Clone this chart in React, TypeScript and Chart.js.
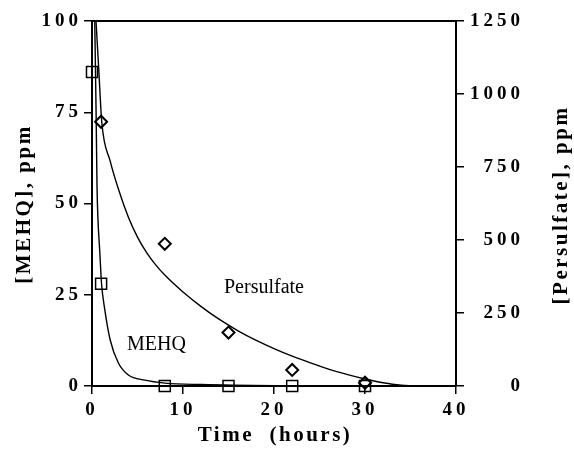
import React, { useEffect, useRef } from 'react';
import { Chart, registerables } from 'chart.js';

Chart.register(...registerables);

// Axis ticks
const timeTicks = [0, 10, 20, 30, 40];
const mehqTicks = [0, 25, 50, 75, 100];
const persTicks = [0, 250, 500, 750, 1000, 1250];

// Measured data (symbols)
const mehqTimes = [0, 1, 8, 15, 22, 30];
const mehqValues = [86, 28, 0, 0, 0, 0];
const persTimes = [1, 8, 15, 22, 30];
const persValues = [905, 487, 183, 55, 11];

// Fitted curves
const mehqFitTimes = [0.3, 0.45, 0.55, 0.65, 0.85, 1.05, 1.4, 2, 2.9, 4, 5.8, 8, 12, 20, 35.3];
const mehqFitValues = [100, 75, 55, 46, 37, 28, 21, 12.6, 6.3, 3, 1.6, 0.8, 0.4, 0.1, 0];
const persFitTimes = [0.44, 0.75, 1.07, 2, 3, 4, 5, 6, 7, 8, 10, 12, 14, 16, 18, 20, 22, 24, 26, 28, 30, 31, 32, 33, 34, 35.3];
const persFitValues = [1250, 1080, 905, 770, 665, 578, 510, 457, 415, 380, 322, 272, 228, 190, 157, 128, 102, 79, 58, 40, 24, 17, 11, 6, 2.5, 0];

const leftTitle = '[MEHQ], ppm';
const rightTitle = '[Persulfate], ppm';
const bottomTitle = 'Time  (hours)';
const persLabel = 'Persulfate';
const mehqLabel = 'MEHQ';

const FAMILY = '"Liberation Serif", "Times New Roman", serif';

const pts = (xs: number[], ys: number[]) => xs.map((x, i) => ({ x, y: ys[i] }));

const deco = {
  id: 'deco',
  beforeDraw(chart: any) {
    (chart.ctx as any).letterSpacing = '4px';
  },
  afterDraw(chart: any) {
    const { ctx, chartArea } = chart;
    ctx.save();
    ctx.strokeStyle = '#000';
    ctx.lineWidth = 2;
    ctx.beginPath();
    ctx.moveTo(chartArea.left - 1, chartArea.top);
    ctx.lineTo(chartArea.right + 1, chartArea.top);
    ctx.stroke();

    ctx.fillStyle = '#000';
    ctx.font = `bold 21px ${FAMILY}`;
    (ctx as any).letterSpacing = '2.5px';
    ctx.textAlign = 'center';
    ctx.textBaseline = 'middle';
    ctx.save();
    ctx.translate(25, 205);
    ctx.rotate(-Math.PI / 2);
    ctx.fillText(leftTitle, 1, 0);
    ctx.restore();
    ctx.save();
    ctx.translate(562, 206);
    ctx.rotate(-Math.PI / 2);
    ctx.fillText(rightTitle, 1, 0);
    ctx.restore();
    ctx.textBaseline = 'alphabetic';
    ctx.fillText(bottomTitle, 275, 441);

    (ctx as any).letterSpacing = '0px';
    ctx.font = `20px ${FAMILY}`;
    ctx.textAlign = 'left';
    ctx.fillText(persLabel, 224, 293);
    ctx.fillText(mehqLabel, 127, 350);
    ctx.restore();
  },
};

export default function App() {
  const ref = useRef<HTMLCanvasElement | null>(null);
  useEffect(() => {
    if (!ref.current) return;
    const tickFont = { family: FAMILY, size: 19, weight: 'bold' as const };
    const grid = { display: true, drawOnChartArea: false, drawTicks: true, tickLength: 8, color: '#000', lineWidth: 1.5 };
    const border = { display: true, color: '#000', width: 2 };
    const fmt = (v: any) => String(v);
    const chart = new Chart(ref.current, {
      type: 'scatter',
      data: {
        datasets: [
          {
            label: 'MEHQ fit',
            data: pts(mehqFitTimes, mehqFitValues),
            showLine: true,
            borderColor: '#000',
            borderWidth: 1.4,
            pointRadius: 0,
            cubicInterpolationMode: 'monotone',
            yAxisID: 'y',
          },
          {
            label: 'Persulfate fit',
            data: pts(persFitTimes, persFitValues),
            showLine: true,
            borderColor: '#000',
            borderWidth: 1.4,
            pointRadius: 0,
            cubicInterpolationMode: 'monotone',
            yAxisID: 'y2',
          },
          {
            label: 'MEHQ',
            data: pts(mehqTimes, mehqValues),
            showLine: false,
            pointStyle: 'rect',
            pointRadius: 7.8,
            borderColor: '#000',
            borderWidth: 1.5,
            backgroundColor: 'rgba(0,0,0,0)',
            clip: false,
            yAxisID: 'y',
          },
          {
            label: 'Persulfate',
            data: pts(persTimes, persValues),
            showLine: false,
            pointStyle: 'rectRot',
            pointRadius: 6,
            borderColor: '#000',
            borderWidth: 2,
            backgroundColor: 'rgba(0,0,0,0)',
            clip: false,
            yAxisID: 'y2',
          },
        ] as any,
      },
      options: {
        animation: false,
        responsive: false,
        devicePixelRatio: 1,
        layout: { padding: { top: 21, right: 50, bottom: 0, left: 0 } },
        plugins: { legend: { display: false }, tooltip: { enabled: false } },
        scales: {
          x: {
            type: 'linear',
            position: 'bottom',
            min: 0,
            max: 40,
            afterBuildTicks: (s: any) => { s.ticks = timeTicks.map((v) => ({ value: v })); },
            afterFit: (s: any) => { s.height = 70; },
            ticks: { font: tickFont, color: '#000', padding: 5, maxRotation: 0, autoSkip: false, callback: fmt },
            grid,
            border,
          },
          y: {
            type: 'linear',
            position: 'left',
            min: 0,
            max: 100,
            afterBuildTicks: (s: any) => { s.ticks = mehqTicks.map((v) => ({ value: v })); },
            afterFit: (s: any) => { s.width = 92; },
            ticks: { font: tickFont, color: '#000', padding: 2, callback: fmt },
            grid,
            border,
          },
          y2: {
            type: 'linear',
            position: 'right',
            min: 0,
            max: 1250,
            afterBuildTicks: (s: any) => { s.ticks = persTicks.map((v) => ({ value: v })); },
            afterFit: (s: any) => { s.width = 68; },
            ticks: { font: tickFont, color: '#000', crossAlign: 'far', callback: fmt },
            grid,
            border,
          },
        },
      } as any,
      plugins: [deco],
    });
    return () => chart.destroy();
  }, []);
  return (
    <div style={{ position: 'absolute', left: 0, top: 0, width: 574, height: 456, background: '#fff' }}>
      <canvas ref={ref} width={574} height={456} />
    </div>
  );
}
